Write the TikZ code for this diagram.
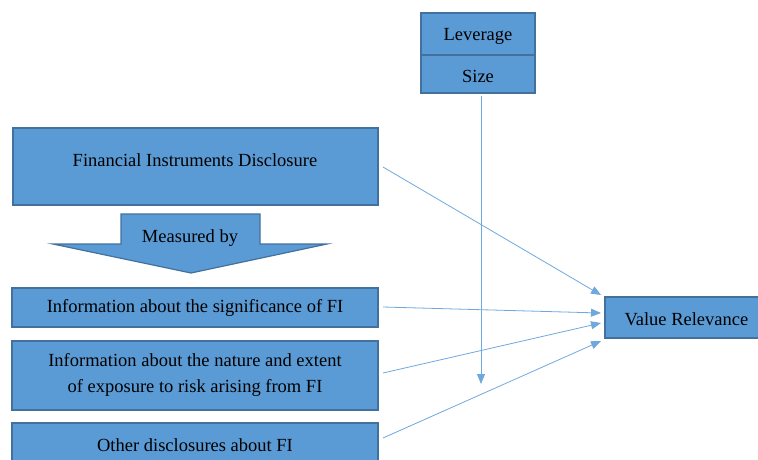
\documentclass[tikz,border=0pt]{standalone}
\usepackage{fontspec}
\setmainfont{Liberation Serif}
\usetikzlibrary{arrows.meta}
\definecolor{boxfill}{HTML}{5B9BD5}
\definecolor{boxedge}{HTML}{41719C}
\definecolor{arr}{HTML}{6FA8DC}
\begin{document}
\begin{tikzpicture}[x=1pt,y=-1pt,
  bx/.style={draw=boxedge,line width=1.2pt,fill=boxfill,inner sep=0pt},
  lbl/.style={font=\fontsize{18.5}{26}\selectfont,text=black,align=center},
  conn/.style={draw=arr,line width=0.8pt,-{Triangle[length=10pt,width=8pt]}}]
\useasboundingbox (0,0) rectangle (758,459);
\clip (0,0) rectangle (758,459);
% boxes
\draw[bx] (13,128) rectangle (378,205);
\node[lbl] (fid) at (195,160) {Financial Instruments Disclosure};
% measured by arrow
\draw[bx] (121,214) -- (260,214) -- (260,244) -- (327,244) -- (191,273) -- (53,244) -- (121,244) -- cycle;
\node[lbl] (mb) at (190,238) {Measured by};
\draw[bx] (12,288) rectangle (378,327);
\node[lbl] (sig) at (195,308) {Information about the significance of FI};
\draw[bx] (12,341) rectangle (378,410);
\node[lbl] (nat) at (195,375) {Information about the nature and extent\\of exposure to risk arising from FI};
\draw[bx] (12,423) rectangle (378,470);
\node[lbl] (oth) at (195,445) {Other disclosures about FI};
\draw[bx] (421,13) rectangle (535,93);
\draw[draw=boxedge,line width=1.2pt] (421,55) -- (535,55);
\node[lbl] (lev) at (478,36) {Leverage};
\node[lbl] (size) at (478,76) {Size};
\draw[bx] (605,297) rectangle (770,338);
\node[lbl,anchor=west] (vr) at (621,319) {Value Relevance};
% connectors
\coordinate (a1s) at (383,167);
\coordinate (a1e) at (601,295);
\coordinate (a2s) at (383,307);
\coordinate (a2e) at (601,313);
\coordinate (a3s) at (383,373);
\coordinate (a3e) at (601,323);
\coordinate (a4s) at (383,438);
\coordinate (a4e) at (601,341);
\coordinate (vs) at (481,96);
\coordinate (ve) at (481,384);
\draw[conn] (a1s) -- (a1e);
\draw[conn] (a2s) -- (a2e);
\draw[conn] (a3s) -- (a3e);
\draw[conn] (a4s) -- (a4e);
\draw[conn] (vs) -- (ve);
\end{tikzpicture}
\end{document}
